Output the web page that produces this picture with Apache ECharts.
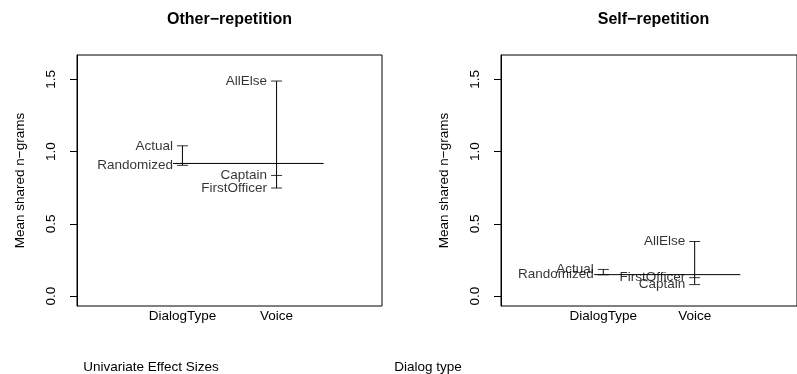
<!DOCTYPE html>
<html>
<head>
<meta charset="utf-8">
<script src="https://cdn.jsdelivr.net/npm/echarts@6/dist/echarts.min.js"></script>
<style>
	html, body { margin: 0; padding: 0; background: #fff; }
	#chart { width: 797px; height: 374px; }
</style>
</head>
<body>
<div id="chart"></div>
<script>
	// data
	var factors = ['DialogType', 'Voice'];
	var dialogLevels = ['Actual', 'Randomized'];
	var voiceLevels = ['AllElse', 'Captain', 'FirstOfficer'];
	var otherDialog = [1.04, 0.905];
	var otherVoice = [1.488, 0.835, 0.748];
	var otherMean = 0.918;
	var selfDialog = [0.185, 0.148];
	var selfVoice = [0.378, 0.08, 0.128];
	var selfMean = 0.149;
	var yTicks = [0, 0.5, 1, 1.5];
	var meanSpan = [0.9, 2.5];

	var font = 'Liberation Sans, Arial, Helvetica, sans-serif';
	var panels = [
		{ left: 77, dialog: otherDialog, voice: otherVoice, mean: otherMean },
		{ left: 501, dialog: selfDialog, voice: selfVoice, mean: selfMean }
	];

	var grid = [], xAxis = [], yAxis = [], series = [];
	panels.forEach(function (p, i) {
		grid.push({ left: p.left, top: 55, width: 305, height: 251, show: true,
			borderColor: '#000', borderWidth: 1, backgroundColor: 'transparent' });
		xAxis.push({
			type: 'value', gridIndex: i, min: -0.12, max: 3.12,
			axisLine: { show: false }, axisTick: { show: false }, splitLine: { show: false },
			axisLabel: { customValues: [1, 2], margin: 3, color: '#000', fontSize: 13.5, fontFamily: font,
				formatter: function (v) { return factors[Math.round(v) - 1]; } }
		});
		yAxis.push({
			type: 'value', gridIndex: i, min: -0.068, max: 1.668, position: 'left',
			axisLine: { show: true, onZero: false, lineStyle: { color: '#000', width: 1 } },
			splitLine: { show: false },
			axisTick: { show: true, inside: false, customValues: yTicks, length: 7, lineStyle: { color: '#000', width: 1 } },
			axisLabel: { customValues: yTicks, rotate: 90, margin: 19, color: '#000', fontSize: 13.5, fontFamily: font,
				formatter: function (v) { return v.toFixed(1); } },
			name: 'Mean shared n\u2212grams', nameLocation: 'middle', nameRotate: 90, nameGap: 50,
			nameTextStyle: { color: '#000', fontSize: 13.5, fontFamily: font }
		});

		var groups = [[dialogLevels, p.dialog], [voiceLevels, p.voice]];
		groups.forEach(function (g, k) {
			var x = k + 1;
			var vals = g[1];
			series.push({
				type: 'line', xAxisIndex: i, yAxisIndex: i, symbol: 'none', silent: true,
				lineStyle: { color: '#000', width: 1 },
				data: [[x, Math.min.apply(null, vals)], [x, Math.max.apply(null, vals)]]
			});
			series.push({
				type: 'scatter', xAxisIndex: i, yAxisIndex: i, symbol: 'rect', symbolSize: [11, 1],
				itemStyle: { color: '#000' },
				label: { show: true, position: 'left', distance: 4, formatter: '{b}',
					color: '#000', fontSize: 13.5, fontFamily: font },
				data: g[0].map(function (name, j) { return { name: name, value: [x, vals[j]] }; })
			});
		});
		series.push({
			type: 'line', xAxisIndex: i, yAxisIndex: i, symbol: 'none', silent: true,
			lineStyle: { color: '#000', width: 1 },
			data: [[meanSpan[0], p.mean], [meanSpan[1], p.mean]]
		});
	});

	var myChart = echarts.init(document.getElementById('chart'), null, { renderer: 'canvas' });
	myChart.setOption({
		animation: false,
		grid: grid,
		xAxis: xAxis,
		yAxis: yAxis,
		series: series,
		graphic: [
			{ type: 'text', x: 229.5, y: 20, style: { text: 'Other\u2212repetition', font: 'bold 16px ' + font, fill: '#000', align: 'center', verticalAlign: 'middle' } },
			{ type: 'text', x: 653.5, y: 20, style: { text: 'Self\u2212repetition', font: 'bold 16px ' + font, fill: '#000', align: 'center', verticalAlign: 'middle' } },
			{ type: 'text', x: 151, y: 367, style: { text: 'Univariate Effect Sizes', font: '13.5px ' + font, fill: '#000', align: 'center', verticalAlign: 'middle' } },
			{ type: 'text', x: 428, y: 367, style: { text: 'Dialog type', font: '13.5px ' + font, fill: '#000', align: 'center', verticalAlign: 'middle' } }
		]
	});
</script>
</body>
</html>
